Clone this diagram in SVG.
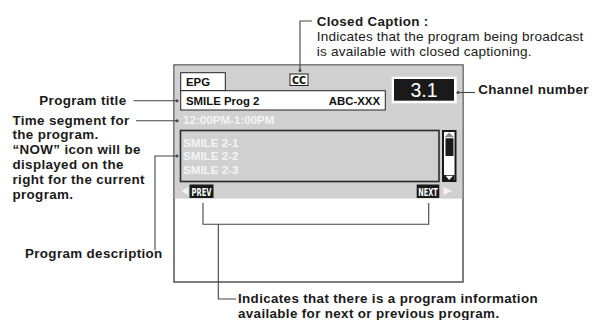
<svg xmlns="http://www.w3.org/2000/svg" width="595" height="320" viewBox="0 0 595 320">
<style>
.lbl{font-family:"Liberation Sans",Arial,sans-serif;font-size:13.4px;letter-spacing:0.35px;font-weight:bold;fill:#1a1a1a}
.reg{font-family:"Liberation Sans",Arial,sans-serif;font-size:13.6px;letter-spacing:0.2px;fill:#1a1a1a}
.scr{font-family:"Liberation Sans",Arial,sans-serif;font-size:11.4px;font-weight:bold;fill:#111}
.wt{font-family:"Liberation Sans",Arial,sans-serif;font-size:11.6px;font-weight:bold;fill:#f4f4f4}
.cond{font-family:"DejaVu Sans Condensed","DejaVu Sans",sans-serif;font-weight:bold;font-size:10.5px}
.ld{fill:none;stroke:#444;stroke-width:1.1}
.dot{fill:#444}
</style>
<rect width="595" height="320" fill="#fff"/>

<g id="screen">
<rect x="174" y="65" width="289" height="217" fill="#fff" stroke="#3a3a3a" stroke-width="1.3"/>
<rect x="174.6" y="65.6" width="287.8" height="133" fill="#d0d0d0"/>
<g id="epg-tab">
<rect x="180.7" y="72.7" width="44.6" height="18" fill="#fff" stroke="#222" stroke-width="1"/>
<text class="scr" x="186" y="86">EPG</text>
</g>
<g id="cc-icon">
<rect x="290" y="74" width="18" height="11.5" fill="#fff" stroke="#222" stroke-width="1"/>
<text class="cond" x="292" y="84" textLength="14" lengthAdjust="spacingAndGlyphs" fill="#111">CC</text>
</g>
<g id="title-bar">
<rect x="180.7" y="90.7" width="204.6" height="19.3" fill="#fff" stroke="#222" stroke-width="1"/>
<text class="scr" x="186" y="105">SMILE Prog 2</text>
<text class="scr" x="380" y="105" text-anchor="end">ABC-XXX</text>
</g>
<g id="channel">
<rect x="391.7" y="76.7" width="65" height="26.6" fill="#fff"/>
<rect x="394" y="79" width="60" height="21.7" fill="#1a1a1a"/>
<text x="424" y="96.7" text-anchor="middle" font-family="Liberation Sans,Arial,sans-serif" font-size="19.5" fill="#fff">3.1</text>
</g>
<g id="time">
<text class="wt" x="183" y="124">12:00PM-1:00PM</text>
</g>
<g id="description">
<rect x="180.5" y="130.5" width="258.5" height="51" fill="#d0d0d0" stroke="#2a2a2a" stroke-width="1.6"/>
<text class="wt" x="183" y="146.5">SMILE 2-1</text>
<text class="wt" x="183" y="160.3">SMILE 2-2</text>
<text class="wt" x="183" y="174">SMILE 2-3</text>
</g>
<g id="scrollbar">
<rect x="442" y="130" width="14.5" height="52" fill="#1a1a1a"/>
<rect x="444" y="132" width="10.5" height="48" fill="#fff"/>
<polygon points="449.2,132.6 454,137.2 444.4,137.2" fill="#8a8a8a"/>
<rect x="445.5" y="138.3" width="8" height="17.7" fill="#1a1a1a"/>
<rect x="444" y="175" width="10.5" height="5" fill="#1a1a1a"/>
<polygon points="445.5,175.8 453,175.8 449.2,180" fill="#fff"/>
</g>
<g id="prev">
<polygon points="181.5,191 188,187 188,195" fill="#f2f2f2"/>
<rect x="189.5" y="184.5" width="24" height="13.5" fill="#1a1a1a"/>
<text class="cond" x="191.5" y="195.5" textLength="20" lengthAdjust="spacingAndGlyphs" fill="#fff">PREV</text>
</g>
<g id="next">
<rect x="416.7" y="184.5" width="22.6" height="13.5" fill="#1a1a1a"/>
<text class="cond" x="418.3" y="195.5" textLength="19.4" lengthAdjust="spacingAndGlyphs" fill="#fff">NEXT</text>
<polygon points="452,191 443.5,187 443.5,195" fill="#f2f2f2"/>
</g>
</g>

<g id="connectors">
<polyline class="ld" points="312,21 300,21 300,70"/>
<circle class="dot" cx="300" cy="70.5" r="1.5"/>
<line class="ld" x1="133.5" y1="100.7" x2="177" y2="100.7"/>
<circle class="dot" cx="177" cy="100.7" r="1.5"/>
<line class="ld" x1="136" y1="120.7" x2="177" y2="120.7"/>
<circle class="dot" cx="177" cy="120.7" r="1.5"/>
<polyline class="ld" points="155,250 155,156 177,156"/>
<circle class="dot" cx="177" cy="156" r="1.5"/>
<line class="ld" x1="458" y1="92.5" x2="475" y2="92.5"/>
<circle class="dot" cx="458" cy="92.5" r="1.5"/>
<polyline class="ld" points="203,203 203,224.3 428.7,224.3 428.7,203"/>
<polyline class="ld" points="218.3,224.3 218.3,299 236,299"/>
</g>

<g id="label-cc">
<text class="lbl" x="316.7" y="26">Closed Caption :</text>
<text class="reg" x="316.7" y="41">Indicates that the program being broadcast</text>
<text class="reg" x="316.7" y="56">is available with closed captioning.</text>
</g>
<g id="label-channel">
<text class="lbl" x="478.3" y="93.5">Channel number</text>
</g>
<g id="label-title">
<text class="lbl" x="39.3" y="104.5">Program title</text>
</g>
<g id="label-time">
<text class="lbl" x="12.5" y="124.5">Time segment for</text>
<text class="lbl" x="12.5" y="139.3">the program.</text>
<text class="lbl" x="12.5" y="154.1">“NOW” icon will be</text>
<text class="lbl" x="12.5" y="168.9">displayed on the</text>
<text class="lbl" x="12.5" y="183.7">right for the current</text>
<text class="lbl" x="12.5" y="198.5">program.</text>
</g>
<g id="label-desc">
<text class="lbl" x="25" y="257.5">Program description</text>
</g>
<g id="label-nav">
<text class="lbl" x="238" y="303">Indicates that there is a program information</text>
<text class="lbl" x="238" y="317.5">available for next or previous program.</text>
</g>
</svg>
